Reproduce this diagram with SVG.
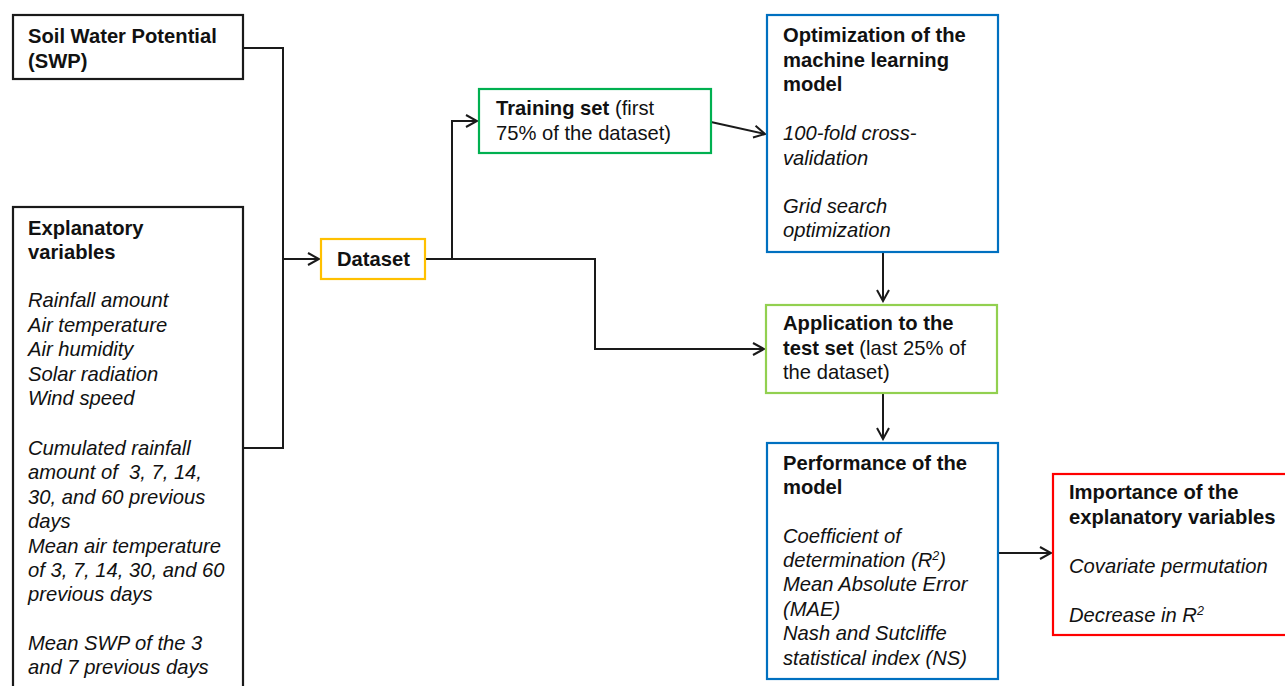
<svg xmlns="http://www.w3.org/2000/svg" width="1285" height="686" viewBox="0 0 1285 686">
<defs>
<marker id="arr" markerWidth="14" markerHeight="14" refX="12" refY="7" orient="auto" markerUnits="userSpaceOnUse">
<path d="M1,1 L12,7 L1,13" fill="none" stroke="#1a1a1a" stroke-width="2"/>
</marker>
<style>
text{font-family:"Liberation Sans",Arial,sans-serif;font-size:20.2px;fill:#111}
.b{font-weight:bold}
.i{font-style:italic}
.box{fill:#fff;stroke-width:2.2}
.k{stroke:#1a1a1a}
.bl{stroke:#0070C0}
.gr{stroke:#00B050}
.lg{stroke:#92D050}
.or{stroke:#FFC000}
.rd{stroke:#FF0000}
.c{fill:none;stroke:#1a1a1a;stroke-width:2}
</style>
</defs>
<rect width="1285" height="686" fill="#fff"/>
<g id="connectors">
<path class="c" d="M243,48 H283 V448 H243"/>
<path class="c" d="M283,259 H319" marker-end="url(#arr)"/>
<path class="c" d="M425,259 H452 V121 H477" marker-end="url(#arr)"/>
<path class="c" d="M452,259 H595 V349 H764" marker-end="url(#arr)"/>
<path class="c" d="M711,122 L765,134" marker-end="url(#arr)"/>
<path class="c" d="M883,252 V301" marker-end="url(#arr)"/>
<path class="c" d="M883,393 V439" marker-end="url(#arr)"/>
<path class="c" d="M998,553 H1051" marker-end="url(#arr)"/>
</g>
<g id="swp">
<rect class="box k" x="13" y="15" width="230" height="64"/>
<text class="b" x="28" y="43">Soil Water Potential</text>
<text class="b" x="28" y="68">(SWP)</text>
</g>
<g id="explanatory">
<rect class="box k" x="13" y="207" width="230" height="500"/>
<text class="b" x="28" y="235">Explanatory</text>
<text class="b" x="28" y="259">variables</text>
<text class="i" x="28" y="307">Rainfall amount</text>
<text class="i" x="28" y="332">Air temperature</text>
<text class="i" x="28" y="356">Air humidity</text>
<text class="i" x="28" y="381">Solar radiation</text>
<text class="i" x="28" y="405">Wind speed</text>
<text class="i" x="28" y="455">Cumulated rainfall</text>
<text class="i" x="28" y="479" xml:space="preserve">amount of  3, 7, 14,</text>
<text class="i" x="28" y="504">30, and 60 previous</text>
<text class="i" x="28" y="528">days</text>
<text class="i" x="28" y="553">Mean air temperature</text>
<text class="i" x="28" y="577">of 3, 7, 14, 30, and 60</text>
<text class="i" x="28" y="601">previous days</text>
<text class="i" x="28" y="650">Mean SWP of the 3</text>
<text class="i" x="28" y="674">and 7 previous days</text>
</g>
<g id="dataset">
<rect class="box or" x="321" y="239" width="104" height="40"/>
<text class="b" x="337" y="266">Dataset</text>
</g>
<g id="training">
<rect class="box gr" x="479" y="89" width="232" height="64"/>
<text x="496" y="115"><tspan class="b">Training set</tspan> (first</text>
<text x="496" y="140">75% of the dataset)</text>
</g>
<g id="optimization">
<rect class="box bl" x="767" y="15" width="231" height="237"/>
<text class="b" x="783" y="42">Optimization of the</text>
<text class="b" x="783" y="67">machine learning</text>
<text class="b" x="783" y="91">model</text>
<text class="i" x="783" y="140">100-fold cross-</text>
<text class="i" x="783" y="165">validation</text>
<text class="i" x="783" y="213">Grid search</text>
<text class="i" x="783" y="237">optimization</text>
</g>
<g id="application">
<rect class="box lg" x="766" y="305" width="231" height="88"/>
<text class="b" x="783" y="330">Application to the</text>
<text x="783" y="355"><tspan class="b">test set</tspan> (last 25% of</text>
<text x="783" y="379">the dataset)</text>
</g>
<g id="performance">
<rect class="box bl" x="767" y="443" width="231" height="236"/>
<text class="b" x="783" y="470">Performance of the</text>
<text class="b" x="783" y="494">model</text>
<text class="i" x="783" y="543">Coefficient of</text>
<text class="i" x="783" y="567">determination (R<tspan font-size="12.5" dy="-7">2</tspan><tspan dy="7">)</tspan></text>
<text class="i" x="783" y="591">Mean Absolute Error</text>
<text class="i" x="783" y="616">(MAE)</text>
<text class="i" x="783" y="640">Nash and Sutcliffe</text>
<text class="i" x="783" y="665">statistical index (NS)</text>
</g>
<g id="importance">
<rect class="box rd" x="1053" y="474" width="240" height="161"/>
<text class="b" x="1069" y="499">Importance of the</text>
<text class="b" x="1069" y="524">explanatory variables</text>
<text class="i" x="1069" y="573">Covariate permutation</text>
<text class="i" x="1069" y="622">Decrease in R<tspan font-size="12.5" dy="-7">2</tspan></text>
</g>
</svg>
